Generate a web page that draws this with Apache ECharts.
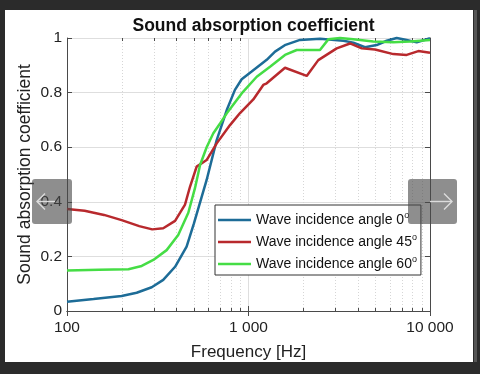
<!DOCTYPE html>
<html>
<head>
<meta charset="utf-8">
<script src="https://cdn.jsdelivr.net/npm/echarts@6/dist/echarts.min.js"></script>
<style>
html,body{margin:0;padding:0;background:#2b2b2b;}
#c{width:480px;height:374px;}
</style>
</head>
<body>
<div id="c"></div>
<script>
// ---- data ----
const seriesNames = ['Wave incidence angle 0', 'Wave incidence angle 45', 'Wave incidence angle 60'];

const freqBlue = [100, 140, 200, 242, 293, 339, 394, 456, 500, 588, 668, 759, 842, 917, 1041, 1260, 1400, 1600, 1922, 2477, 3330, 3780, 4385, 5085, 5773, 6554, 7440, 8450, 10000];
const absBlue  = [0.034, 0.044, 0.055, 0.067, 0.087, 0.114, 0.162, 0.236, 0.32, 0.48, 0.626, 0.736, 0.81, 0.849, 0.877, 0.92, 0.95, 0.975, 0.993, 0.997, 0.99, 0.983, 0.966, 0.974, 0.99, 1.0, 0.993, 0.984, 0.999];

const freqRed = [100, 125, 160, 200, 250, 295, 339, 394, 420, 447, 476, 518, 588, 668, 791, 898, 1000, 1063, 1206, 1260, 1589, 2093, 2424, 3061, 3625, 4206, 4977, 6279, 7440, 8623, 10000];
const absRed  = [0.374, 0.367, 0.352, 0.333, 0.311, 0.299, 0.303, 0.33, 0.36, 0.39, 0.455, 0.529, 0.553, 0.614, 0.681, 0.725, 0.757, 0.775, 0.828, 0.834, 0.891, 0.861, 0.919, 0.962, 0.98, 0.962, 0.958, 0.941, 0.938, 0.952, 0.946];

const freqGreen = [100, 150, 218, 258, 299, 354, 410, 466, 507, 541, 588, 640, 697, 759, 808, 917, 1110, 1314, 1589, 1843, 2477, 2752, 3193, 3780, 4870, 6279, 7759, 10000];
const absGreen  = [0.148, 0.151, 0.153, 0.165, 0.187, 0.223, 0.278, 0.36, 0.45, 0.535, 0.6, 0.651, 0.687, 0.724, 0.748, 0.797, 0.858, 0.895, 0.938, 0.956, 0.956, 0.995, 1.0, 0.995, 0.987, 0.984, 0.987, 0.993];

const xTickValues = [100, 1000, 10000];
const xTickLabels = ['100', '1 000', '10 000'];
const yTickLabels = ['0', '0.2', '0.4', '0.6', '0.8', '1'];
const minorFreqs = [200, 300, 400, 500, 600, 700, 800, 900, 2000, 3000, 4000, 5000, 6000, 7000, 8000, 9000];

// ---- chart ----
const FONT = '"Liberation Sans", Arial, sans-serif';
const colors = ['#1d6c97', '#b8292d', '#45dd45'];
const zip = (xs, ys) => xs.map((x, i) => [x, ys[i]]);
const lineData = [zip(freqBlue, absBlue), zip(freqRed, absRed), zip(freqGreen, absGreen)];

const chart = echarts.init(document.getElementById('c'), null, {renderer: 'canvas'});

const axisLineStyle = {color: '#4a4a4a', width: 1};

const option = {
  animation: false,
  backgroundColor: '#2b2b2b',
  textStyle: {fontFamily: FONT},
  title: {
    text: 'Sound absorption coefficient',
    left: 248.5,
    textAlign: 'center',
    top: 12,
    textStyle: {fontFamily: FONT, fontSize: 17.5, fontWeight: 'bold', color: '#111'}
  },
  grid: {left: 67, top: 38, right: 50, bottom: 63, containLabel: false},
  legend: {
    orient: 'vertical',
    left: 215,
    top: 205,
    padding: [6, 4, 4, 3],
    itemGap: 6,
    itemWidth: 33,
    itemHeight: 2.5,
    icon: 'rect',
    backgroundColor: '#fff',
    borderColor: '#333',
    borderWidth: 1,
    borderRadius: 0,
    data: seriesNames,
    formatter: name => '{t|' + name + '}{s|o}',
    textStyle: {
      fontFamily: FONT,
      rich: {
        t: {fontSize: 14, color: '#111', fontFamily: FONT, lineHeight: 18},
        s: {fontSize: 9, color: '#111', fontFamily: FONT, lineHeight: 9, verticalAlign: 'top'}
      }
    }
  },
  xAxis: [{
    type: 'log',
    logBase: 10,
    min: 100,
    max: 10000,
    position: 'bottom',
    axisLine: {show: true, lineStyle: axisLineStyle},
    axisTick: {show: true, inside: true, length: 5, lineStyle: axisLineStyle},
    axisLabel: {
      show: true, margin: 9, fontSize: 15.5, color: '#222', fontFamily: FONT,
      formatter: v => {
        const i = xTickValues.findIndex(t => Math.abs(t - v) / t < 1e-6);
        return i >= 0 ? xTickLabels[i] : '';
      }
    },
    splitLine: {show: true, lineStyle: {color: '#dedede', width: 1}},
    name: 'Frequency [Hz]',
    nameLocation: 'middle',
    nameGap: 33,
    nameMoveOverlap: false,
    nameTextStyle: {fontSize: 17, color: '#222', fontFamily: FONT}
  }, {
    type: 'log',
    logBase: 10,
    min: 100,
    max: 10000,
    position: 'top',
    axisLine: {show: true, lineStyle: axisLineStyle},
    axisTick: {show: true, inside: true, length: 5, lineStyle: axisLineStyle},
    axisLabel: {show: false},
    splitLine: {show: false}
  }],
  yAxis: [{
    type: 'value',
    min: 0,
    max: 1,
    interval: 0.2,
    position: 'left',
    axisLine: {show: true, lineStyle: axisLineStyle},
    axisTick: {show: true, inside: true, length: 5, lineStyle: axisLineStyle},
    axisLabel: {
      margin: 5, fontSize: 15.5, color: '#222', fontFamily: FONT,
      formatter: v => yTickLabels[Math.round(v / 0.2)]
    },
    splitLine: {show: true, lineStyle: {color: '#dedede', width: 1}},
    name: 'Sound absorption coefficient',
    nameLocation: 'middle',
    nameGap: 33,
    nameMoveOverlap: false,
    nameTextStyle: {fontSize: 17.5, color: '#222', fontFamily: FONT}
  }, {
    type: 'value',
    min: 0,
    max: 1,
    interval: 0.2,
    position: 'right',
    axisLine: {show: true, lineStyle: axisLineStyle},
    axisTick: {show: true, inside: true, length: 5, lineStyle: axisLineStyle},
    axisLabel: {show: false},
    splitLine: {show: false}
  }],
  graphic: [
    {type: 'rect', z: -100, silent: true, shape: {x: 5, y: 10, width: 468, height: 352}, style: {fill: '#ffffff'}},
    {type: 'rect', z: -100, silent: true, shape: {x: 474, y: 10, width: 3, height: 352}, style: {fill: '#555'}},
    // carousel buttons overlay
    {type: 'rect', z: 1000, silent: true, shape: {x: 32, y: 179, width: 40, height: 45, r: 3}, style: {fill: 'rgba(72,72,72,0.62)'}},
    {type: 'polyline', z: 1001, silent: true, shape: {points: [[55, 201.5], [37, 201.5]]}, style: {stroke: '#dcdcdc', lineWidth: 1.4, fill: null}},
    {type: 'polyline', z: 1001, silent: true, shape: {points: [[45, 193.5], [37, 201.5], [45, 209.5]]}, style: {stroke: '#dcdcdc', lineWidth: 1.4, fill: null}},
    {type: 'rect', z: 1000, silent: true, shape: {x: 408, y: 179, width: 49, height: 45, r: 3}, style: {fill: 'rgba(72,72,72,0.62)'}},
    {type: 'polyline', z: 1001, silent: true, shape: {points: [[430, 201.5], [452, 201.5]]}, style: {stroke: '#dcdcdc', lineWidth: 1.4, fill: null}},
    {type: 'polyline', z: 1001, silent: true, shape: {points: [[444, 193.5], [452, 201.5], [444, 209.5]]}, style: {stroke: '#dcdcdc', lineWidth: 1.4, fill: null}}
  ],
  series: [
    {
      type: 'custom',
      name: 'minor',
      silent: true,
      z: 1,
      xAxisIndex: 0,
      yAxisIndex: 0,
      data: minorFreqs.map(f => [f, 0]),
      encode: {x: 0, y: 1},
      renderItem: (params, api) => {
        const f = api.value(0);
        const p0 = api.coord([f, 0]);
        const p1 = api.coord([f, 1]);
        const x = Math.round(p0[0]) + 0.5;
        return {
          type: 'group',
          children: [
            {type: 'line', shape: {x1: x, y1: p0[1], x2: x, y2: p1[1]}, style: {stroke: '#d6d6d6', lineWidth: 1, lineDash: [1, 2]}},
            {type: 'line', shape: {x1: x, y1: p0[1], x2: x, y2: p0[1] - 3}, style: {stroke: '#4a4a4a', lineWidth: 1}},
            {type: 'line', shape: {x1: x, y1: p1[1], x2: x, y2: p1[1] + 3}, style: {stroke: '#4a4a4a', lineWidth: 1}}
          ]
        };
      }
    },
    ...seriesNames.map((n, i) => ({
      type: 'line',
      name: n,
      data: lineData[i],
      xAxisIndex: 0,
      yAxisIndex: 0,
      showSymbol: false,
      symbol: 'none',
      clip: false,
      z: 3,
      color: colors[i],
      lineStyle: {color: colors[i], width: 2.5}
    }))
  ]
};
chart.setOption(option);
</script>
</body>
</html>
